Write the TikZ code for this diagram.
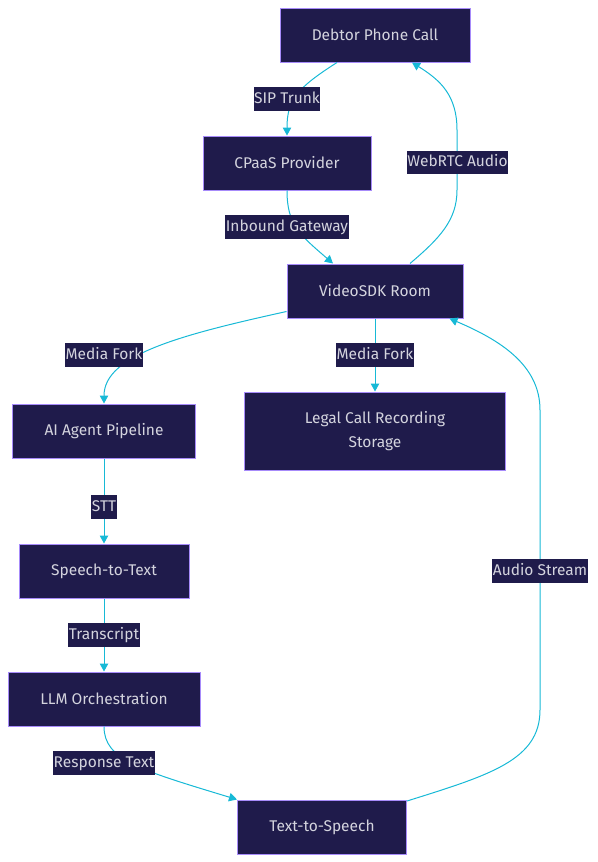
\documentclass[tikz,border=0pt]{standalone}
\usepackage{fontspec}
\setmainfont{Fira Sans}
\usetikzlibrary{arrows.meta,calc}
\definecolor{nodefill}{HTML}{1F1B4B}
\definecolor{nodeborder}{HTML}{A78BFA}
\definecolor{nodetext}{HTML}{D4D4DE}
\definecolor{edgecol}{HTML}{17B9D6}
\begin{document}
\begin{tikzpicture}[x=1pt,y=-1pt,
  box/.style={draw=nodeborder,fill=nodefill,line width=1pt,text=nodetext,
    font=\fontsize{15.5}{24}\selectfont,inner sep=0pt,align=center},
  lbl/.style={fill=nodefill,text=nodetext,font=\fontsize{15.5}{24}\selectfont,
    inner xsep=0.5pt,inner ysep=0pt,minimum height=23.5pt,text height=11.5pt,text depth=3.5pt},
  edge/.style={draw=edgecol,line width=1pt,-{Triangle[length=8pt,width=8.5pt]}},
  plain/.style={draw=edgecol,line width=1pt}]
\useasboundingbox (0,0) rectangle (597,862);

% nodes
\node[box,minimum width=190pt,minimum height=54pt] (debtor) at (375,35) {Debtor Phone Call};
\node[box,minimum width=168pt,minimum height=54pt] (cpaas) at (287,163) {CPaaS Provider};
\node[box,minimum width=176pt,minimum height=54pt] (video) at (375,291) {VideoSDK Room};
\node[box,minimum width=183pt,minimum height=54pt] (ai) at (104,431) {AI Agent Pipeline};
\node[box,minimum width=261pt,minimum height=78pt] (legal) at (375,431) {Legal Call Recording\\[0pt]Storage};
\node[box,minimum width=170pt,minimum height=54pt] (stt) at (104,571) {Speech-to-Text};
\node[box,minimum width=192pt,minimum height=54pt] (llm) at (104,699) {LLM Orchestration};
\node[box,minimum width=169pt,minimum height=54pt] (tts) at (322,827) {Text-to-Speech};

% label positions
\coordinate (lsip) at (287,99);
\coordinate (lweb) at (457.5,162.5);
\coordinate (linb) at (287,227);
\coordinate (lmf1) at (104,355);
\coordinate (lmf2) at (375,355);
\coordinate (lstt) at (104,507);
\coordinate (ltr) at (104,635);
\coordinate (lresp) at (104,763);
\coordinate (laud) at (540,571);

% edges
\draw[edge] ($(debtor.south)+(-38,0)$) .. controls (297,88) and (287,100) .. (cpaas.north);
\draw[edge] (cpaas.south) .. controls (287,225) and (300,235) .. ($(video.north)+(-42,0)$);
\draw[plain] ($(video.north)+(35,0)$) .. controls (440,238) and (457,220) .. (457,190) -- (457,130);
\draw[edge] (457,130) .. controls (457,95) and (440,80) .. ($(debtor.south)+(37,0)$);
\draw[edge] ($(video.west)+(0,20.5)$) .. controls (180,335) and (104,355) .. (ai.north);
\draw[edge] (video.south) -- (legal.north);
\draw[edge] (ai.south) -- (stt.north);
\draw[edge] (stt.south) -- (llm.north);
\draw[edge] (llm.south) .. controls (104,760) and (140,770) .. (tts.north west);
\draw[plain] ($(tts.north east)+(0,1.5)$) .. controls (490,775) and (540,760) .. (540,710) -- (540,410);
\draw[edge] (540,410) .. controls (540,365) and (500,340) .. ($(video.south east)+(-14,0)$);

% labels
\node[lbl] (tsip) at (lsip) {SIP Trunk};
\node[lbl] (tweb) at (lweb) {WebRTC Audio};
\node[lbl] (tinb) at (linb) {Inbound Gateway};
\node[lbl] (tmf1) at (lmf1) {Media Fork};
\node[lbl] (tmf2) at (lmf2) {Media Fork};
\node[lbl] (tstt) at (lstt) {STT};
\node[lbl] (ttr) at (ltr) {Transcript};
\node[lbl] (tresp) at (lresp) {Response Text};
\node[lbl] (taud) at (laud) {Audio Stream};
\end{tikzpicture}
\end{document}
